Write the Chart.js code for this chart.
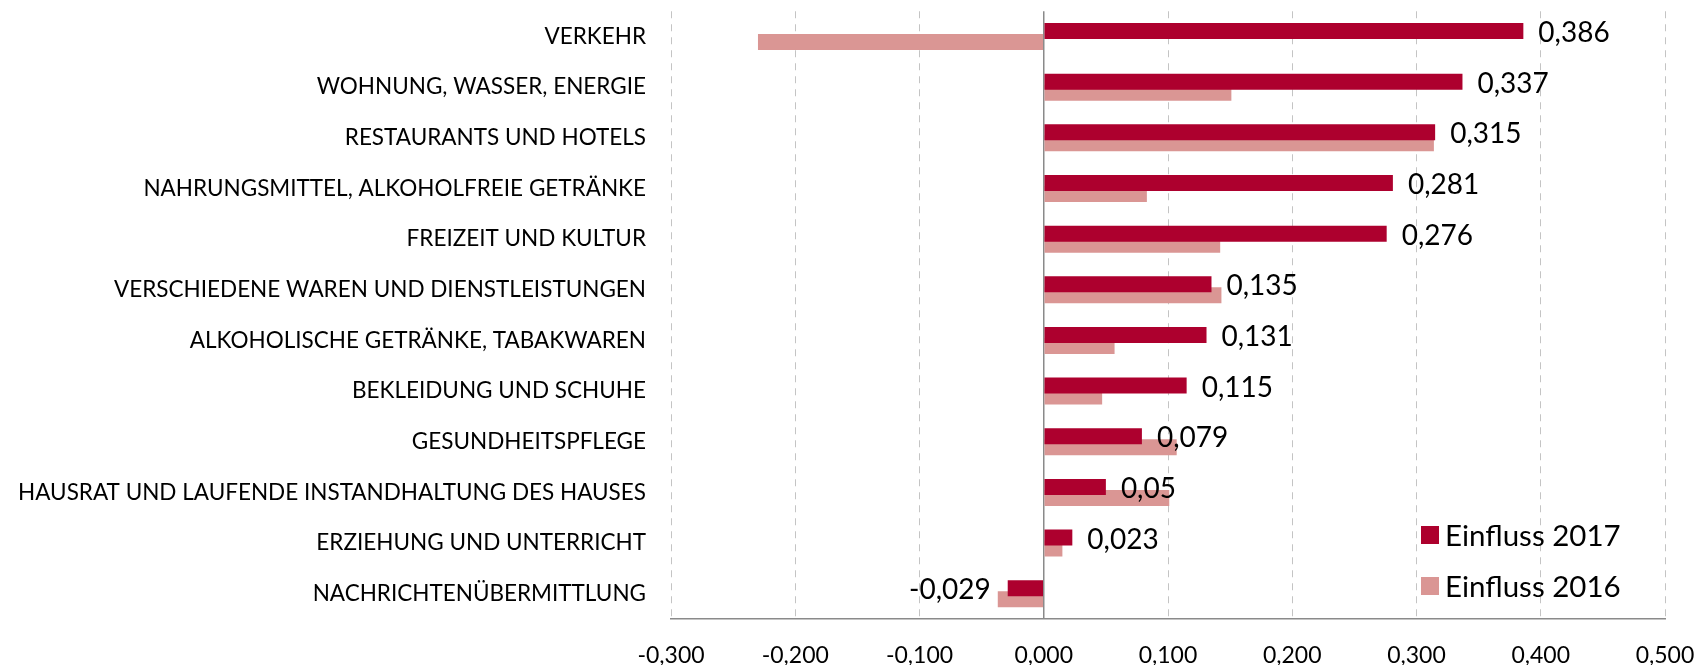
<!DOCTYPE html>
<html>
<head>
<meta charset="utf-8">
<script src="https://cdn.jsdelivr.net/npm/chart.js@4.4.1/dist/chart.umd.min.js"></script>
<style>
  html, body { margin: 0; padding: 0; background: #ffffff; }
  #wrap { width: 1700px; height: 665px; position: relative; }
</style>
</head>
<body>
<div id="wrap"><canvas id="c" width="1700" height="665"></canvas></div>
<script>
const categories = [
  'VERKEHR',
  'WOHNUNG, WASSER, ENERGIE',
  'RESTAURANTS UND HOTELS',
  'NAHRUNGSMITTEL, ALKOHOLFREIE GETRÄNKE',
  'FREIZEIT UND KULTUR',
  'VERSCHIEDENE WAREN UND DIENSTLEISTUNGEN',
  'ALKOHOLISCHE GETRÄNKE, TABAKWAREN',
  'BEKLEIDUNG UND SCHUHE',
  'GESUNDHEITSPFLEGE',
  'HAUSRAT UND LAUFENDE INSTANDHALTUNG DES HAUSES',
  'ERZIEHUNG UND UNTERRICHT',
  'NACHRICHTENÜBERMITTLUNG'
];
const seriesNames = ['Einfluss 2017', 'Einfluss 2016'];
const values2017 = [0.386, 0.337, 0.315, 0.281, 0.276, 0.135, 0.131, 0.115, 0.079, 0.05, 0.023, -0.029];
const values2016 = [-0.230, 0.151, 0.314, 0.083, 0.142, 0.143, 0.057, 0.047, 0.107, 0.101, 0.015, -0.037];
const tickLabels = ['-0,300', '-0,200', '-0,100', '0,000', '0,100', '0,200', '0,300', '0,400', '0,500'];

const FONT = 'Lato';
const COLOR_2017 = '#AD002E';
const COLOR_2016 = '#DA9694';

const valueLabelPlugin = {
  id: 'valueLabels',
  afterDatasetsDraw(chart) {
    const ctx = chart.ctx;
    const meta = chart.getDatasetMeta(0);
    const data = chart.data.datasets[0].data;
    ctx.save();
    ctx.font = '28px ' + FONT;
    ctx.fillStyle = '#000000';
    ctx.textBaseline = 'middle';
    meta.data.forEach((el, i) => {
      const v = data[i];
      const txt = String(v).replace('.', ',');
      if (v >= 0) {
        ctx.textAlign = 'left';
        ctx.fillText(txt, el.x + 15, el.y + 2);
      } else {
        ctx.textAlign = 'right';
        ctx.fillText(txt, el.x - 17, el.y + 2);
      }
    });
    ctx.restore();
  }
};

const legendPlugin = {
  id: 'innerLegend',
  afterDraw(chart) {
    const ctx = chart.ctx;
    const ds = chart.data.datasets;
    ctx.save();
    ctx.font = '29.5px ' + FONT;
    ctx.textBaseline = 'middle';
    ctx.textAlign = 'left';
    ds.forEach((d, i) => {
      const cy = 535 + i * 51;
      ctx.fillStyle = d.backgroundColor;
      ctx.fillRect(1421, cy - 9, 18, 18);
      ctx.fillStyle = '#000000';
      ctx.fillText(d.label, 1445, cy + 1);
    });
    ctx.restore();
  }
};

const isZero = c => c.tick && Math.abs(c.tick.value) < 1e-9;

function build() {
  new Chart(document.getElementById('c'), {
    type: 'bar',
    data: {
      labels: categories,
      datasets: [
        { label: seriesNames[0], data: values2017, backgroundColor: COLOR_2017,
          categoryPercentage: 0.4342, barPercentage: 1.4545 },
        { label: seriesNames[1], data: values2016, backgroundColor: COLOR_2016,
          categoryPercentage: 0.4342, barPercentage: 1.4545 }
      ]
    },
    options: {
      indexAxis: 'y',
      responsive: false,
      maintainAspectRatio: false,
      devicePixelRatio: 1,
      animation: false,
      layout: { padding: { left: 0, right: 35, top: 11, bottom: 0 } },
      plugins: {
        legend: { display: false },
        tooltip: { enabled: false }
      },
      scales: {
        x: {
          type: 'linear',
          min: -0.3,
          max: 0.5,
          ticks: {
            stepSize: 0.1,
            color: '#000000',
            font: { family: FONT, size: 23 },
            padding: 0,
            maxRotation: 0,
            callback: (v, i) => tickLabels[i]
          },
          grid: {
            drawTicks: true,
            tickLength: 23,
            tickColor: 'rgba(0,0,0,0)',
            color: c => isZero(c) ? '#8a8a8a' : '#c4c4c4',
            lineWidth: c => isZero(c) ? 1.5 : 1
          },
          border: {
            display: true,
            color: '#8a8a8a',
            width: 1.5,
            dash: c => isZero(c) ? [] : [7, 6]
          },
          afterFit: s => { s.height = 46; }
        },
        y: {
          type: 'category',
          offset: true,
          ticks: {
            color: '#000000',
            font: { family: FONT, size: 22.5, lineHeight: 1 },
            padding: 0,
            autoSkip: false
          },
          grid: { display: false, drawTicks: true, tickLength: 25 },
          border: { display: false },
          afterFit: s => { s.width = 671; }
        }
      }
    },
    plugins: [valueLabelPlugin, legendPlugin]
  });
}

Promise.all([
  document.fonts.load('22px ' + FONT),
  document.fonts.load('29px ' + FONT)
]).then(build, build);
</script>
</body>
</html>
